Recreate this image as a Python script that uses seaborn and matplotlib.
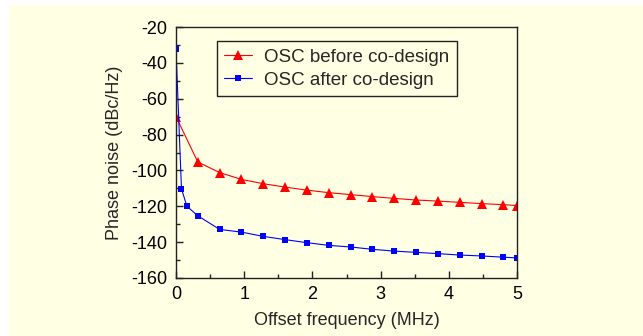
import matplotlib
matplotlib.use('Agg')
import numpy as np
import matplotlib.pyplot as plt
import seaborn as sns
from matplotlib.patches import Rectangle

# === data ===
freq_before = [0, 0.32, 0.64, 0.96, 1.28, 1.6, 1.92, 2.24, 2.56, 2.88, 3.2, 3.52, 3.84, 4.16, 4.48, 4.8, 5.0]
pn_before = [-70, -95.3, -101.2, -105.0, -107.4, -109.3, -111.0, -112.4, -113.5, -114.6, -115.6, -116.5,
             -117.1, -117.8, -118.5, -119.1, -119.6]
freq_after = [0, 0.08, 0.16, 0.32, 0.64, 0.96, 1.28, 1.6, 1.92, 2.24, 2.56, 2.88, 3.2, 3.52, 3.84, 4.16, 4.48, 4.8, 5.0]
pn_after = [-32.4, -110.2, -120.0, -125.3, -132.9, -134.4, -136.8, -138.6, -140.3, -141.8, -142.7, -144.0,
            -145.0, -145.7, -146.4, -147.2, -147.7, -148.4, -148.8]
labels = ['OSC before co-design', 'OSC after co-design']

bg = '#FFFFE3'
sns.set_style('ticks')
plt.rcParams['font.family'] = ['Liberation Sans', 'DejaVu Sans']
plt.rcParams['axes.unicode_minus'] = False

fig = plt.figure(figsize=(6.43, 3.36), dpi=100)
fig.patch.set_facecolor('white')
# yellow slide background, white strip on top and left
fig.patches.append(Rectangle((9 / 643, 0), 1, 1 - 5 / 336, transform=fig.transFigure,
                             facecolor=bg, edgecolor='none', zorder=-10))
ax = fig.add_axes([176 / 643, 1 - 278 / 336, 341 / 643, 251 / 336])
ax.set_facecolor(bg)

sns.lineplot(x=freq_before, y=pn_before, color='#FF0000', marker='^', markersize=6.6,
             markeredgewidth=0, linewidth=0.8, label=labels[0], sort=False, ax=ax)
sns.lineplot(x=freq_after, y=pn_after, color='#0000FF', marker='s', markersize=4.6,
             markeredgewidth=0, linewidth=0.8, label=labels[1], sort=False, ax=ax)

ax.set_xlim(0, 5)
ax.set_ylim(-160, -20)
ax.set_xticks(np.arange(0, 6, 1))
ax.set_xticks(np.arange(0.5, 5, 1), minor=True)
ax.set_yticks(np.arange(-160, -19, 20))
ax.set_yticks(np.arange(-150, -20, 20), minor=True)
ax.tick_params(which='both', direction='in', colors='#222222', labelcolor='black', labelsize=13, width=1)
ax.tick_params(which='major', length=5, pad=6)
ax.tick_params(which='minor', length=3)
for s in ax.spines.values():
    s.set_color('#222222')
    s.set_linewidth(1)

ax.set_xlabel('Offset frequency (MHz)', fontsize=13, labelpad=6)
ax.set_ylabel('Phase noise (dBc/Hz)', fontsize=13, labelpad=6)

leg = ax.legend(loc='upper left', bbox_to_anchor=(0.119, 0.944), fontsize=13.5, frameon=True,
                fancybox=False, facecolor=bg, edgecolor='#222222', framealpha=1,
                handlelength=1.5, borderpad=0.4, labelspacing=0.32, handletextpad=0.62,
                borderaxespad=0)
leg.get_frame().set_linewidth(1)

fig.savefig('out.png', dpi=100)
